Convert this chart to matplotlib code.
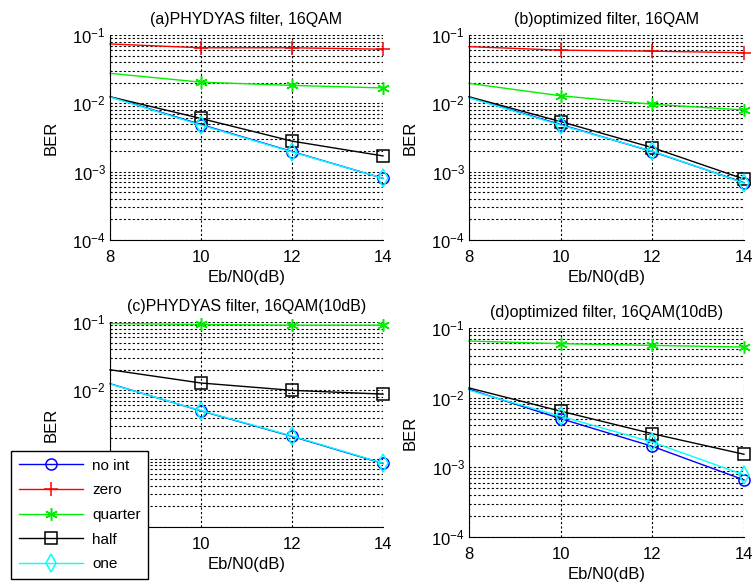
import matplotlib
matplotlib.use("Agg")
import matplotlib.pyplot as plt
from matplotlib.lines import Line2D
from matplotlib.ticker import LogLocator, NullFormatter, FixedLocator

plt.rcParams['font.family'] = ['Liberation Sans', 'DejaVu Sans']
plt.rcParams['mathtext.fontset'] = 'custom'
plt.rcParams['mathtext.rm'] = 'Liberation Sans'
plt.rcParams['mathtext.it'] = 'Liberation Sans'

ebn0 = [8, 10, 12, 14]
series_names = ["no int", "zero", "quarter", "half", "one"]
titles = ["(a)PHYDYAS filter, 16QAM", "(b)optimized filter, 16QAM",
          "(c)PHYDYAS filter, 16QAM(10dB)", "(d)optimized filter, 16QAM(10dB)"]

# panel (a)
a_noint = [0.0125, 0.0049, 0.00197, 0.00080]
a_zero = [0.074, 0.065, 0.065, 0.062]
a_quarter = [0.0275, 0.0204, 0.0183, 0.0168]
a_half = [0.0125, 0.0060, 0.0028, 0.0017]
a_one = [0.0124, 0.0048, 0.00195, 0.00080]
# panel (b)
b_noint = [0.0122, 0.0049, 0.00197, 0.00069]
b_zero = [0.0675, 0.060, 0.058, 0.055]
b_quarter = [0.0196, 0.0129, 0.0097, 0.0080]
b_half = [0.0125, 0.0054, 0.00225, 0.00078]
b_one = [0.0121, 0.0048, 0.00200, 0.00068]
# panel (c)
c_noint = [0.0125, 0.00500, 0.00212, 0.00085]
c_zero = [0.13, 0.13, 0.13, 0.13]
c_quarter = [0.095, 0.092, 0.090, 0.090]
c_half = [0.020, 0.0128, 0.0100, 0.0088]
c_one = [0.0124, 0.00505, 0.00215, 0.00086]
# panel (d)
d_noint = [0.0132, 0.00500, 0.00200, 0.00066]
d_zero = [0.13, 0.13, 0.13, 0.13]
d_quarter = [0.065, 0.0596, 0.0563, 0.0533]
d_half = [0.0138, 0.0064, 0.00304, 0.00154]
d_one = [0.0128, 0.0054, 0.0023, 0.00078]

panels = [
    [a_noint, a_zero, a_quarter, a_half, a_one],
    [b_noint, b_zero, b_quarter, b_half, b_one],
    [c_noint, c_zero, c_quarter, c_half, c_one],
    [d_noint, d_zero, d_quarter, d_half, d_one],
]

styles = [
    dict(color='#0000ff', marker='o', mfc='none', ms=8),
    dict(color='#ff0000', marker='+', ms=10),
    dict(color='#00ee00', marker=(6, 2, 0), ms=9),
    dict(color='#000000', marker='s', mfc='none', ms=8),
    dict(color='#00ffff', marker='d', mfc='none', ms=9),
]

W, H = 755, 583
fig = plt.figure(figsize=(W / 100, H / 100), dpi=100)

boxes = [(110, 35, 383, 240), (469, 35, 744, 240),
         (110, 322, 383, 527), (469, 328, 744, 537)]

YMIN, YMAX = 1e-4, 1e-1
for i, (box, data) in enumerate(zip(boxes, panels)):
    l, t, r, b = box
    ax = fig.add_axes([l / W, (H - b) / H, (r - l) / W, (b - t) / H])
    for vals, st in zip(data, styles):
        inside = all(YMIN <= v <= YMAX for v in vals)
        ax.plot(ebn0, vals, lw=1.0, mew=1.1, markevery=[1, 2, 3],
                clip_on=not inside, **st)
    ax.set_yscale('log')
    ax.set_ylim(YMIN, YMAX)
    ax.set_xlim(8, 14)
    ax.xaxis.set_major_locator(FixedLocator(ebn0))
    ax.yaxis.set_major_locator(LogLocator(base=10, numticks=10))
    ax.yaxis.set_minor_locator(LogLocator(base=10, subs=range(2, 10), numticks=20))
    ax.yaxis.set_minor_formatter(NullFormatter())
    ax.grid(True, which='major', color='black', ls=(0, (2, 2)), lw=0.8)
    ax.grid(True, which='minor', axis='y', color='black', ls=(0, (2, 2)), lw=0.8)
    ax.spines['top'].set_visible(False)
    ax.spines['right'].set_visible(False)
    ax.tick_params(which='both', direction='in', length=0, labelsize=12)
    ax.tick_params(axis='x', pad=7)
    ax.tick_params(axis='y', pad=3)
    ax.set_title(titles[i], fontsize=11.5, pad=8)
    ax.set_xlabel('Eb/N0(dB)', fontsize=12, labelpad=4)
    ax.set_ylabel('BER', fontsize=12, labelpad=10)

handles = [Line2D([], [], lw=1.0, mew=1.1, **st) for st in styles]
leg = fig.legend(handles, series_names, loc='lower left',
                 bbox_to_anchor=(11 / W, 4 / H), bbox_transform=fig.transFigure,
                 fontsize=11, handlelength=4.2, labelspacing=0.70,
                 fancybox=False, framealpha=1, edgecolor='black',
                 borderpad=0.5, handletextpad=0.6, borderaxespad=0)
leg.get_frame().set_linewidth(1.0)

fig.savefig('out.png', dpi=100)
